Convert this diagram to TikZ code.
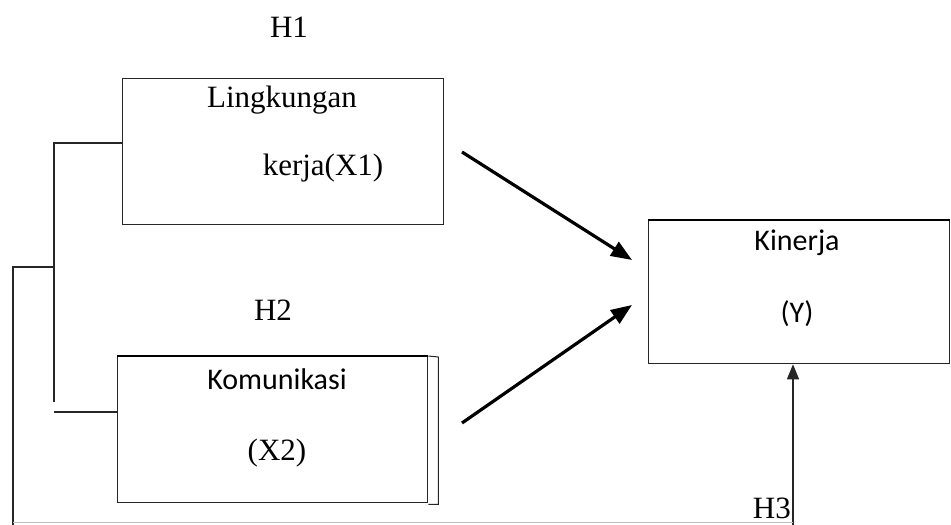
\documentclass[tikz,border=0pt]{standalone}
\usepackage{fontspec}
\setmainfont{Liberation Serif}
\newfontfamily\calfont{Carlito}
\usetikzlibrary{arrows.meta,calc}
\begin{document}
\begin{tikzpicture}[x=1pt,y=-1pt,
  box/.style={draw=black!85, line width=1.3pt, rectangle, inner sep=0pt, anchor=north west},
  ser/.style={font=\fontsize{31}{36}\selectfont, anchor=base, inner sep=0pt},
  san/.style={font=\calfont\fontsize{30}{36}\selectfont, anchor=base, inner sep=0pt},
  link/.style={draw=black!85, line width=1.3pt},
  bigarrow/.style={line width=3.2pt, -{Triangle[length=21pt,width=16pt]}},
  thinarrow/.style={draw=black!85, line width=1.4pt, -{Triangle[length=15pt,width=12pt]}}]
\useasboundingbox (0,0) rectangle (951,525);

% boxes
\node[box, minimum width=321pt, minimum height=146pt] (b1) at (122,78) {};
\node[box, minimum width=310pt, minimum height=146pt] (b2) at (117,356) {};
\node[box, minimum width=301pt, minimum height=143pt] (by) at (648,220) {};
\draw[line width=2.6pt] (b2.north west) -- (b2.north east);
\draw[line width=2.6pt] (by.north west) -- (by.north east);
\draw[link, line width=1pt] (b2.north east) -- ++(10,1) coordinate (b2r) |- ($(b2.south east)+(0,1)$);

% texts
\node[ser] (t1a) at (282,107) {Lingkungan};
\node[ser] (t1b) at (323,175) {kerja(X1)};
\node[san] (t2a) at (277,389) {Komunikasi};
\node[ser] (t2b) at (277,460) {(X2)};
\node[san] (tya) at (797,250) {Kinerja};
\node[san] (tyb) at (797,322) {(Y)};
\node[ser] (h1) at (289,37) {H1};
\node[ser] (h2) at (273,320) {H2};

% bracket lines
\coordinate (p1) at (54,143);
\coordinate (p2) at (54,402);
\coordinate (p3) at (54,412);
\coordinate (p4) at (54,267);
\coordinate (p5) at (13,267);
\coordinate (p6) at (13,525);
\draw[link] (b1.west |- p1) -- (p1) -- (p2);
\draw[link] (p3) -- (b2.west |- p3);
\draw[link] (p4) -- (p5) -- (p6);

% arrows
\coordinate (a1s) at (462,152);
\coordinate (a1e) at (632,260);
\coordinate (a2s) at (462,423);
\coordinate (a2e) at (632,305);
\draw[bigarrow] (a1s) -- (a1e);
\draw[bigarrow] (a2s) -- (a2e);

\coordinate (h3s) at (793,525);
\draw[thinarrow] (h3s) -- (h3s |- by.south);
\node[ser, anchor=base east] (h3) at (791,518) {H3};

% faint bottom line
\coordinate (q1) at (13,522);
\coordinate (q2) at (793,522);
\draw[black!25, line width=1pt] (q1) -- (q2);
\end{tikzpicture}
\end{document}
